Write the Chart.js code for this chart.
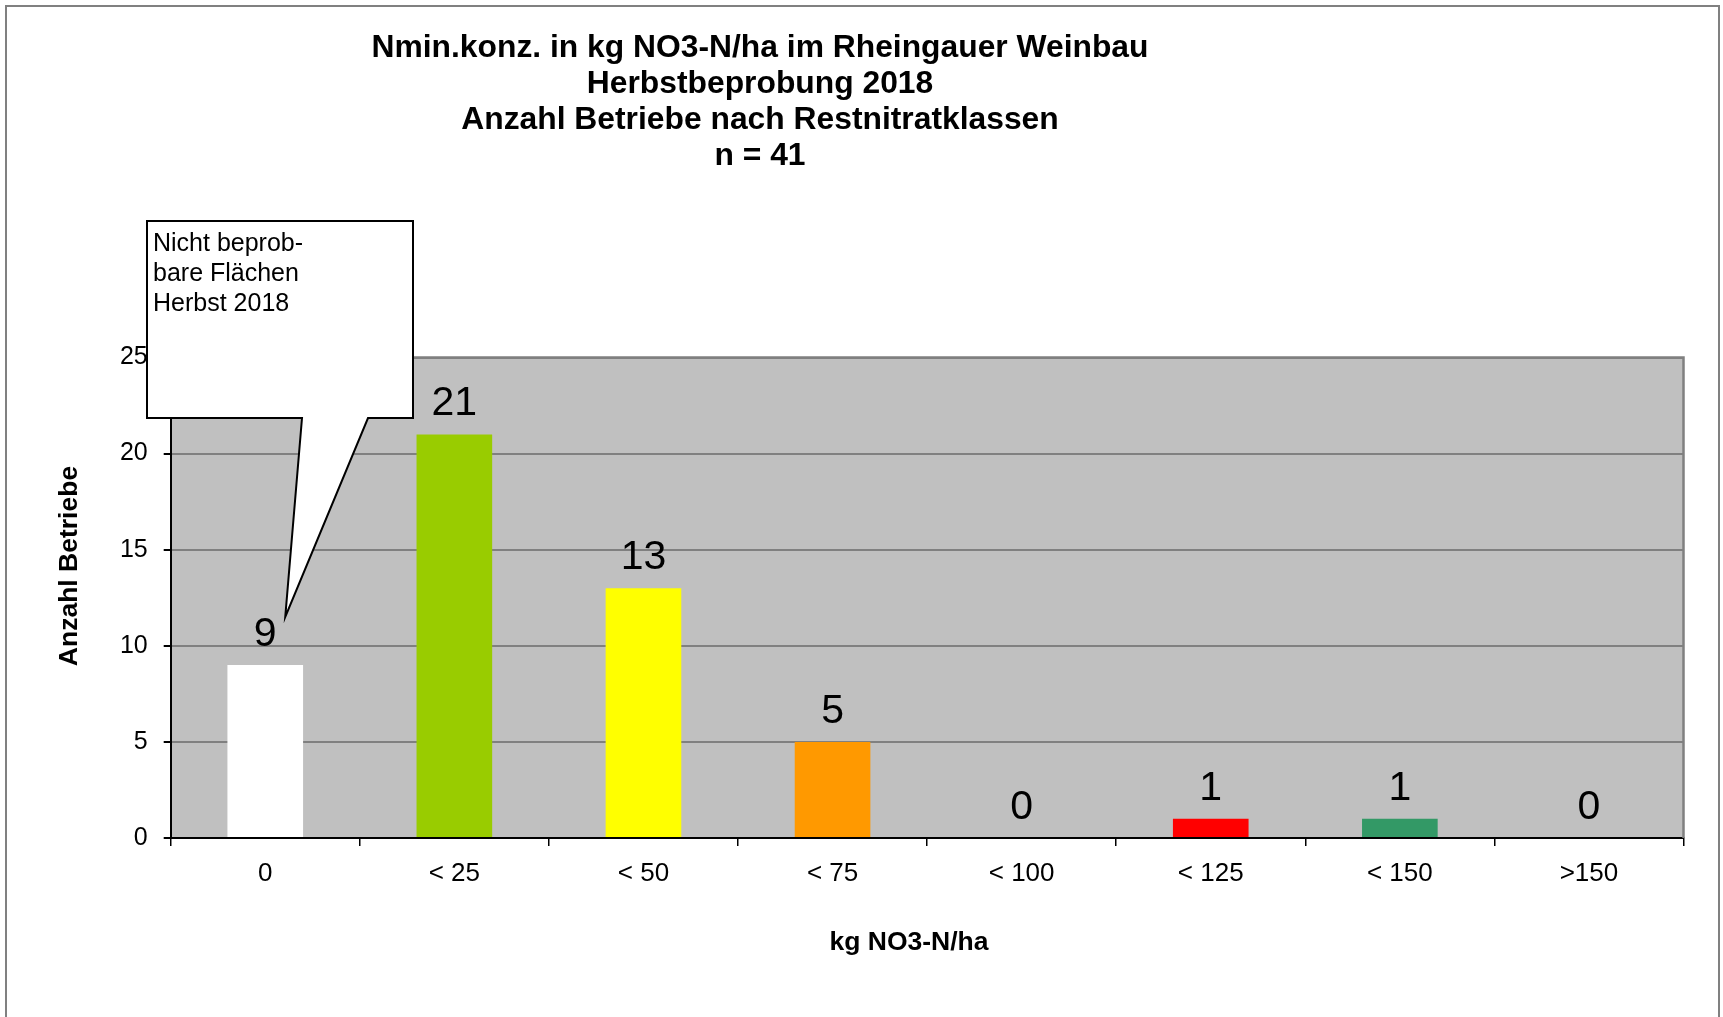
<!DOCTYPE html>
<html>
<head>
<meta charset="utf-8">
<script src="https://cdn.jsdelivr.net/npm/chart.js@4.4.1/dist/chart.umd.min.js"></script>
<style>
    body { margin: 0; background: #fff; }
    canvas { display: block; }
</style>
</head>
<body>
<canvas id="myChart" width="1723" height="1017"></canvas>
<script>
var categories = ['0', '< 25', '< 50', '< 75', '< 100', '< 125', '< 150', '>150'];
var counts = [9, 21, 13, 5, 0, 1, 1, 0];
var barColors = ['#FFFFFF', '#99CC00', '#FFFF00', '#FF9900', '#FF6600', '#FF0000', '#339966', '#808080'];
var yTicks = [0, 5, 10, 15, 20, 25];

var titleLines = [
    'Nmin.konz. in kg NO3-N/ha im Rheingauer Weinbau',
    'Herbstbeprobung 2018',
    'Anzahl Betriebe nach Restnitratklassen',
    'n = 41'
];
var calloutLines = ['Nicht beprob-', 'bare Flächen', 'Herbst 2018'];
var yTitle = 'Anzahl Betriebe';
var xTitle = 'kg NO3-N/ha';

var FONT = "'Liberation Sans', Arial, sans-serif";

var ctx = document.getElementById('myChart').getContext('2d');

// white page, outer frame and grey plot area
var backdrop = {
    id: 'backdrop',
    beforeDraw: function (chart) {
        let c = chart.ctx;
        let a = chart.chartArea;
        c.save();
        c.fillStyle = '#fff';
        c.fillRect(0, 0, chart.width, chart.height);
        c.strokeStyle = '#808080';
        c.lineWidth = 2;
        c.strokeRect(6, 6, 1713, chart.height + 20);
        c.fillStyle = '#C0C0C0';
        c.fillRect(a.left, a.top, a.right - a.left, a.bottom - a.top);
        c.restore();
    },
    afterDatasetsDraw: function (chart) {
        let c = chart.ctx;
        let a = chart.chartArea;
        c.save();
        // top and right edge of the plot frame
        c.strokeStyle = '#808080';
        c.lineWidth = 2.5;
        c.beginPath();
        c.moveTo(a.left, a.top);
        c.lineTo(a.right, a.top);
        c.lineTo(a.right, a.bottom);
        c.stroke();

        // value labels above bars
        c.fillStyle = '#000';
        c.font = '41px ' + FONT;
        c.textAlign = 'center';
        c.textBaseline = 'alphabetic';
        chart.getDatasetMeta(0).data.forEach(function (bar, i) {
            c.fillText(String(counts[i]), bar.x, bar.y - 19);
        });
        c.restore();
    }
};

// titles and the callout box
var texts = {
    id: 'texts',
    afterDraw: function (chart) {
        let c = chart.ctx;
        let xs = chart.scales.x;
        let ys = chart.scales.y;
        c.save();
        c.fillStyle = '#000';

        c.font = 'bold 31px ' + FONT;
        c.textAlign = 'center';
        c.textBaseline = 'alphabetic';
        for (let i = 0; i < titleLines.length; i++) {
            c.save();
            c.translate(760, 57 + i * 36);
            c.scale(1.026, 1);
            c.fillText(titleLines[i], 0, 0);
            c.restore();
        }

        c.font = 'bold 26.5px ' + FONT;
        c.fillText(xTitle, 909, 950);

        c.save();
        c.translate(76.5, 566);
        c.rotate(-Math.PI / 2);
        c.fillText(yTitle, 0, 0);
        c.restore();

        // callout pointing at the first bar
        let tipX = xs.getPixelForValue(0) + 20;
        let tipY = ys.getPixelForValue(11.5);
        let bl = 147, bt = 221, br = 413, bb = 418;
        c.beginPath();
        c.moveTo(bl, bt);
        c.lineTo(br, bt);
        c.lineTo(br, bb);
        c.lineTo(368, bb);
        c.lineTo(tipX, tipY);
        c.lineTo(302, bb);
        c.lineTo(bl, bb);
        c.closePath();
        c.fillStyle = '#fff';
        c.fill();
        c.strokeStyle = '#000';
        c.lineWidth = 2;
        c.stroke();

        c.fillStyle = '#000';
        c.font = '25px ' + FONT;
        c.textAlign = 'left';
        for (let i = 0; i < calloutLines.length; i++) {
            c.fillText(calloutLines[i], 153, 251 + i * 30);
        }
        c.restore();
    }
};

var myChart = new Chart(ctx, {
    type: 'bar',
    data: {
        labels: categories,
        datasets: [{
            data: counts,
            backgroundColor: barColors,
            borderWidth: 0,
            categoryPercentage: 1,
            barPercentage: 0.4
        }]
    },
    options: {
        responsive: false,
        animation: false,
        devicePixelRatio: 1,
        layout: {
            padding: { left: 0, top: 357.5, right: 39.5, bottom: 0 }
        },
        plugins: {
            legend: { display: false },
            title: { display: false },
            tooltip: { enabled: false }
        },
        scales: {
            x: {
                type: 'category',
                offset: true,
                grid: {
                    offset: true,
                    drawOnChartArea: false,
                    tickLength: 8,
                    color: '#000',
                    lineWidth: 1.5
                },
                border: { color: '#000', width: 2 },
                ticks: {
                    color: '#000',
                    font: { family: FONT, size: 26 },
                    padding: 12,
                    maxRotation: 0,
                    autoSkip: false
                },
                afterFit: function (scale) {
                    scale.height = 179;
                }
            },
            y: {
                min: 0,
                max: 25,
                afterBuildTicks: function (scale) {
                    scale.ticks = yTicks.map(v => ({ value: v }));
                },
                grid: {
                    color: '#808080',
                    lineWidth: 2,
                    tickColor: '#000',
                    tickLength: 7
                },
                border: { color: '#000', width: 2 },
                ticks: {
                    color: '#000',
                    font: { family: FONT, size: 25 },
                    padding: 16
                },
                afterFit: function (scale) {
                    scale.width = 170.7;
                }
            }
        }
    },
    plugins: [backdrop, texts]
});
</script>
</body>
</html>
